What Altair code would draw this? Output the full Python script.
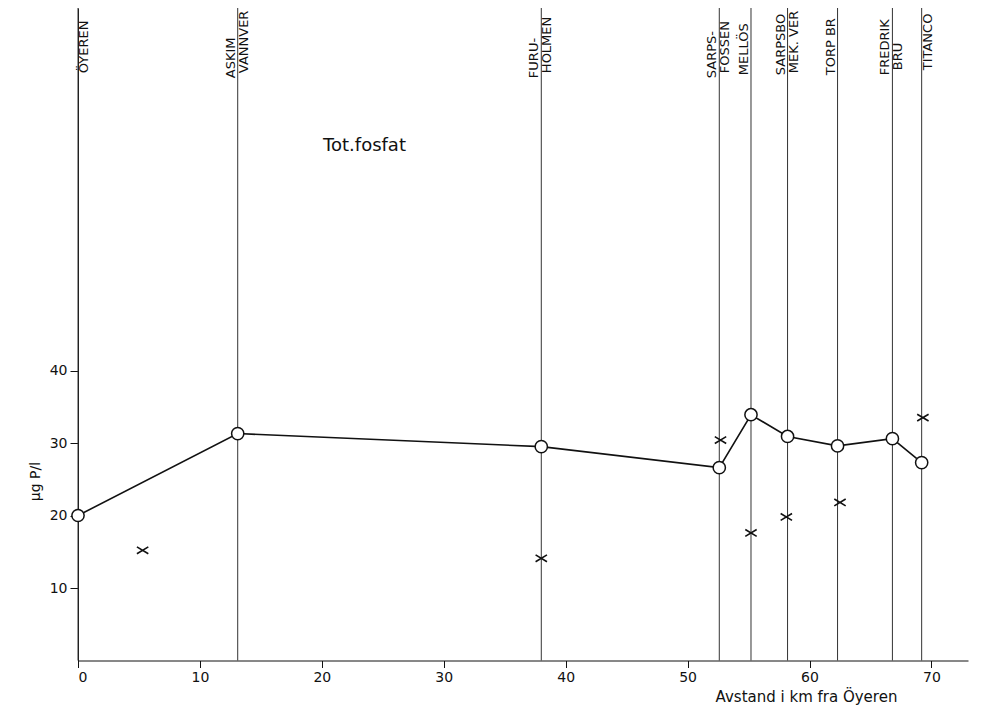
import altair as alt
import pandas as pd

# Stations (km from Öyeren) and total phosphate values (circles, connected)
station_km = [0.0, 13.1, 38.0, 52.6, 55.2, 58.2, 62.3, 66.8, 69.2]
tot_p = [20.0, 31.3, 29.5, 26.6, 33.9, 30.9, 29.6, 30.6, 27.3]

# Second series (x markers)
cross_km = [5.3, 38.0, 52.7, 55.2, 58.1, 62.5, 69.3]
cross_p = [15.2, 14.1, 30.4, 17.6, 19.8, 21.8, 33.5]

# Station labels
label_text = ["ÖYEREN", "ASKIM", "VANNVER", "FURU-", "HOLMEN", "SARPS-", "FOSSEN",
              "MELLÖS", "SARPSBO", "MEK. VER", "TORP BR", "FREDRIK", "BRU", "TITANCO"]
label_km = [0.0, 13.1, 13.1, 38.0, 38.0, 52.6, 52.6, 55.2, 58.2, 58.2, 62.3, 66.8, 66.8, 69.2]
label_side = ["right", "left", "right", "left", "right", "left", "right",
              "left", "left", "right", "left", "left", "right", "right"]
label_base = [80.6, 80.6, 80.6, 80.6, 80.6, 80.6, 80.6,
              81.0, 81.0, 80.6, 81.0, 81.0, 81.0, 81.0]

x_ticks = [0, 10, 20, 30, 40, 50, 60, 70]
y_ticks = [10, 20, 30, 40]

FONT = "DejaVu Sans"
INK = "#111111"

main = pd.DataFrame({"km": station_km, "p": tot_p})
cross = pd.DataFrame({"km": cross_km, "p": cross_p})
stations = pd.DataFrame({"km": station_km})
labels = pd.DataFrame({"km": label_km, "text": label_text, "side": label_side, "base": label_base})
title_df = pd.DataFrame({"km": [23.5], "p": [70.9], "text": ["Tot.fosfat"]})

xscale = alt.Scale(domain=[0, 73], nice=False, zero=False)
yscale = alt.Scale(domain=[0, 90], nice=False)

xaxis = alt.Axis(values=x_ticks, tickSize=7, labelPadding=3, grid=False,
                 domainColor=INK, tickColor=INK, labelColor=INK,
                 labelFont=FONT, labelFontSize=14,
                 title="Avstand i km fra Öyeren", titleFont=FONT, titleFontSize=15,
                 titleFontWeight="normal", titleColor=INK,
                 titleX=728, titleY=36, titleAlign="center", titleBaseline="middle")
yaxis = alt.Axis(values=y_ticks, tickSize=8, labelPadding=3, grid=False,
                 domainColor=INK, tickColor=INK, labelColor=INK,
                 labelFont=FONT, labelFontSize=14,
                 title="μg P/l", titleFont=FONT, titleFontSize=14,
                 titleFontWeight="normal", titleColor=INK,
                 titleX=-43, titleY=473, titleAngle=270,
                 titleAlign="center", titleBaseline="middle")

rules = alt.Chart(stations).mark_rule(color="#333333", strokeWidth=1).encode(
    x=alt.X("km:Q", scale=xscale, axis=xaxis),
    y=alt.datum(0, scale=yscale, axis=yaxis),
    y2=alt.datum(90),
)

line = alt.Chart(main).mark_line(color=INK, strokeWidth=1.6).encode(
    x=alt.X("km:Q", scale=xscale),
    y=alt.Y("p:Q", scale=yscale),
)

crosses = alt.Chart(cross).mark_point(
    shape="M-1,-0.6L1,0.6M-1,0.6L1,-0.6", size=130, filled=False,
    stroke=INK, strokeWidth=1.6, opacity=1
).encode(
    x=alt.X("km:Q", scale=xscale),
    y=alt.Y("p:Q", scale=yscale),
)

circles = alt.Chart(main).mark_point(
    shape="circle", size=150, filled=True, fill="white",
    stroke=INK, strokeWidth=1.5, opacity=1
).encode(
    x=alt.X("km:Q", scale=xscale),
    y=alt.Y("p:Q", scale=yscale),
)

left_text = alt.Chart(labels).transform_filter(alt.datum.side == "left").mark_text(
    angle=270, align="left", baseline="bottom", dx=-2,
    font=FONT, fontSize=13, color=INK
).encode(
    x=alt.X("km:Q", scale=xscale),
    y=alt.Y("base:Q", scale=yscale),
    text="text:N",
)

right_text = alt.Chart(labels).transform_filter(alt.datum.side == "right").mark_text(
    angle=270, align="left", baseline="top", dx=3,
    font=FONT, fontSize=13, color=INK
).encode(
    x=alt.X("km:Q", scale=xscale),
    y=alt.Y("base:Q", scale=yscale),
    text="text:N",
)

heading = alt.Chart(title_df).mark_text(
    font=FONT, fontSize=18, color=INK, align="center", baseline="middle"
).encode(
    x=alt.X("km:Q", scale=xscale),
    y=alt.Y("p:Q", scale=yscale),
    text="text:N",
)

chart = alt.layer(rules, line, crosses, circles, left_text, right_text, heading).properties(
    width=890, height=652.5,
    autosize=alt.AutoSizeParams(type="none"),
    padding={"left": 70, "top": 0, "right": 3, "bottom": 50},
    background="white",
).configure_view(stroke=None)

chart.save("out.html", embed_options={"renderer": "svg", "actions": False})
